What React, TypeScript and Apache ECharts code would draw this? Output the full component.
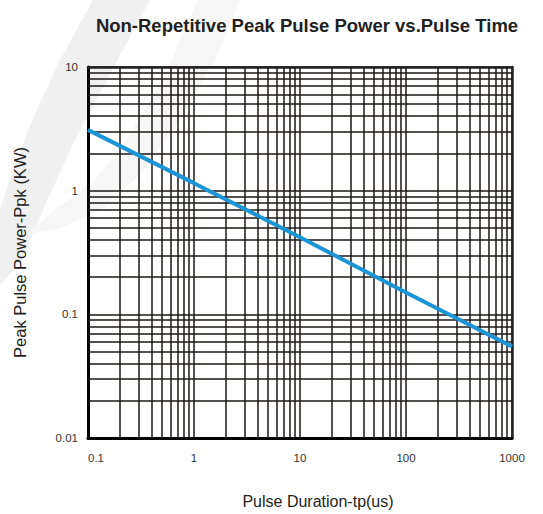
import React, { useEffect, useRef } from 'react';
import * as echarts from 'echarts';

const xTickLabels = ['0.1', '1', '10', '100', '1000'];
const yTickLabels = ['0.01', '0.1', '1', '10'];
const pulseTime = [0.1, 1, 10, 100, 1000];
const peakPower = [3.1, 1.15, 0.42, 0.15, 0.055];
const minorMultipliers = [2, 3, 4, 5, 6, 7, 8, 9];
const xMinorDecades = [0.1, 1, 10, 100];
const yMinorDecades = [0.01, 0.1, 1];

const FONT = 'Arial, "Liberation Sans", Helvetica, sans-serif';
const GRID_COLOR = '#1e1717';

export default function App() {
  const ref = useRef<HTMLDivElement>(null);
  useEffect(() => {
    if (!ref.current) return;
    const chart = echarts.init(ref.current, undefined, { renderer: 'svg' });

    const xMinor: any[] = [];
    xMinorDecades.forEach((d) => minorMultipliers.forEach((m) => xMinor.push({ xAxis: +(d * m).toPrecision(6) })));
    const yMinor: any[] = [];
    yMinorDecades.forEach((d) => minorMultipliers.forEach((m) => yMinor.push({ yAxis: +(d * m).toPrecision(6) })));

    const lineStyleGrid = { color: GRID_COLOR, width: 1.5, type: 'solid' as const };

    chart.setOption({
      animation: false,
      backgroundColor: '#ffffff',
      title: {
        text: 'Non-Repetitive Peak Pulse Power vs.Pulse Time',
        left: 302,
        textAlign: 'center',
        top: 11,
        textStyle: { fontFamily: FONT, fontWeight: 'bold', fontSize: 18.5, color: '#231f20' },
      },
      graphic: [
        {
          type: 'polygon',
          z: -10,
          silent: true,
          shape: {
            points: [
              [93, 0], [150, 0], [112, 70], [75, 140], [45, 205], [22, 260], [0, 285],
              [0, 210], [8, 185], [30, 125], [60, 60],
            ],
          },
          style: { fill: '#f0f0f0' },
        },
        {
          type: 'polygon',
          z: -10,
          silent: true,
          shape: {
            points: [
              [198, 0], [240, 0], [215, 60], [180, 120], [140, 175], [100, 210], [60, 228], [25, 235],
              [55, 210], [95, 180], [130, 135], [165, 75],
            ],
          },
          style: { fill: '#f6f6f6' },
        },
      ],
      grid: { left: 88, right: 31, top: 67, bottom: 75, containLabel: false },
      xAxis: [
        {
          type: 'log',
          logBase: 10,
          min: 0.1,
          max: 1000,
          name: 'Pulse Duration-tp(us)',
          nameLocation: 'middle',
          nameGap: 55,
          nameTextStyle: { fontFamily: FONT, fontSize: 16, color: '#231f20', padding: [0, 0, 0, 36] },
          axisLine: { show: true, onZero: false, lineStyle: { color: '#000', width: 3 } },
          axisTick: { show: false },
          axisLabel: {
            margin: 14,
            fontFamily: FONT,
            fontSize: 11.5,
            color: '#333',
            alignMinLabel: 'left',
            formatter: (v: number) => xTickLabels[Math.round(Math.log10(v)) + 1] ?? '',
          },
          splitLine: { show: true, lineStyle: lineStyleGrid },
        },
        {
          type: 'log',
          logBase: 10,
          min: 0.1,
          max: 1000,
          position: 'top',
          axisLine: { show: true, lineStyle: { color: '#222', width: 2.5 } },
          axisTick: { show: false },
          axisLabel: { show: false },
          splitLine: { show: false },
        },
      ],
      yAxis: [
        {
          type: 'log',
          logBase: 10,
          min: 0.01,
          max: 10,
          name: 'Peak Pulse Power-Ppk (KW)',
          nameLocation: 'middle',
          nameGap: 60,
          nameTextStyle: { fontFamily: FONT, fontSize: 16.5, color: '#231f20' },
          axisLine: { show: true, onZero: false, lineStyle: { color: '#000', width: 3 } },
          axisTick: { show: false },
          axisLabel: {
            margin: 10,
            fontFamily: FONT,
            fontSize: 11.5,
            color: '#333',
            formatter: (v: number) => yTickLabels[Math.round(Math.log10(v)) + 2] ?? '',
          },
          splitLine: { show: true, lineStyle: lineStyleGrid },
        },
        {
          type: 'log',
          logBase: 10,
          min: 0.01,
          max: 10,
          position: 'right',
          axisLine: { show: true, lineStyle: { color: '#222', width: 2.5 } },
          axisTick: { show: false },
          axisLabel: { show: false },
          splitLine: { show: false },
        },
      ],
      series: [
        {
          type: 'line',
          name: 'grid',
          xAxisIndex: 0,
          yAxisIndex: 0,
          data: [],
          silent: true,
          markLine: {
            silent: true,
            symbol: ['none', 'none'],
            label: { show: false },
            lineStyle: lineStyleGrid,
            emphasis: { disabled: true },
            data: [...xMinor, ...yMinor],
          },
        },
        {
          type: 'line',
          name: 'Ppk',
          xAxisIndex: 0,
          yAxisIndex: 0,
          data: pulseTime.map((t, i) => [t, peakPower[i]]),
          showSymbol: false,
          symbol: 'none',
          lineStyle: { color: '#1b95d5', width: 4 },
          z: 5,
        },
      ],
    });
    return () => chart.dispose();
  }, []);
  return <div ref={ref} style={{ position: 'fixed', left: 0, top: 0, width: 543, height: 514 }} />;
}
